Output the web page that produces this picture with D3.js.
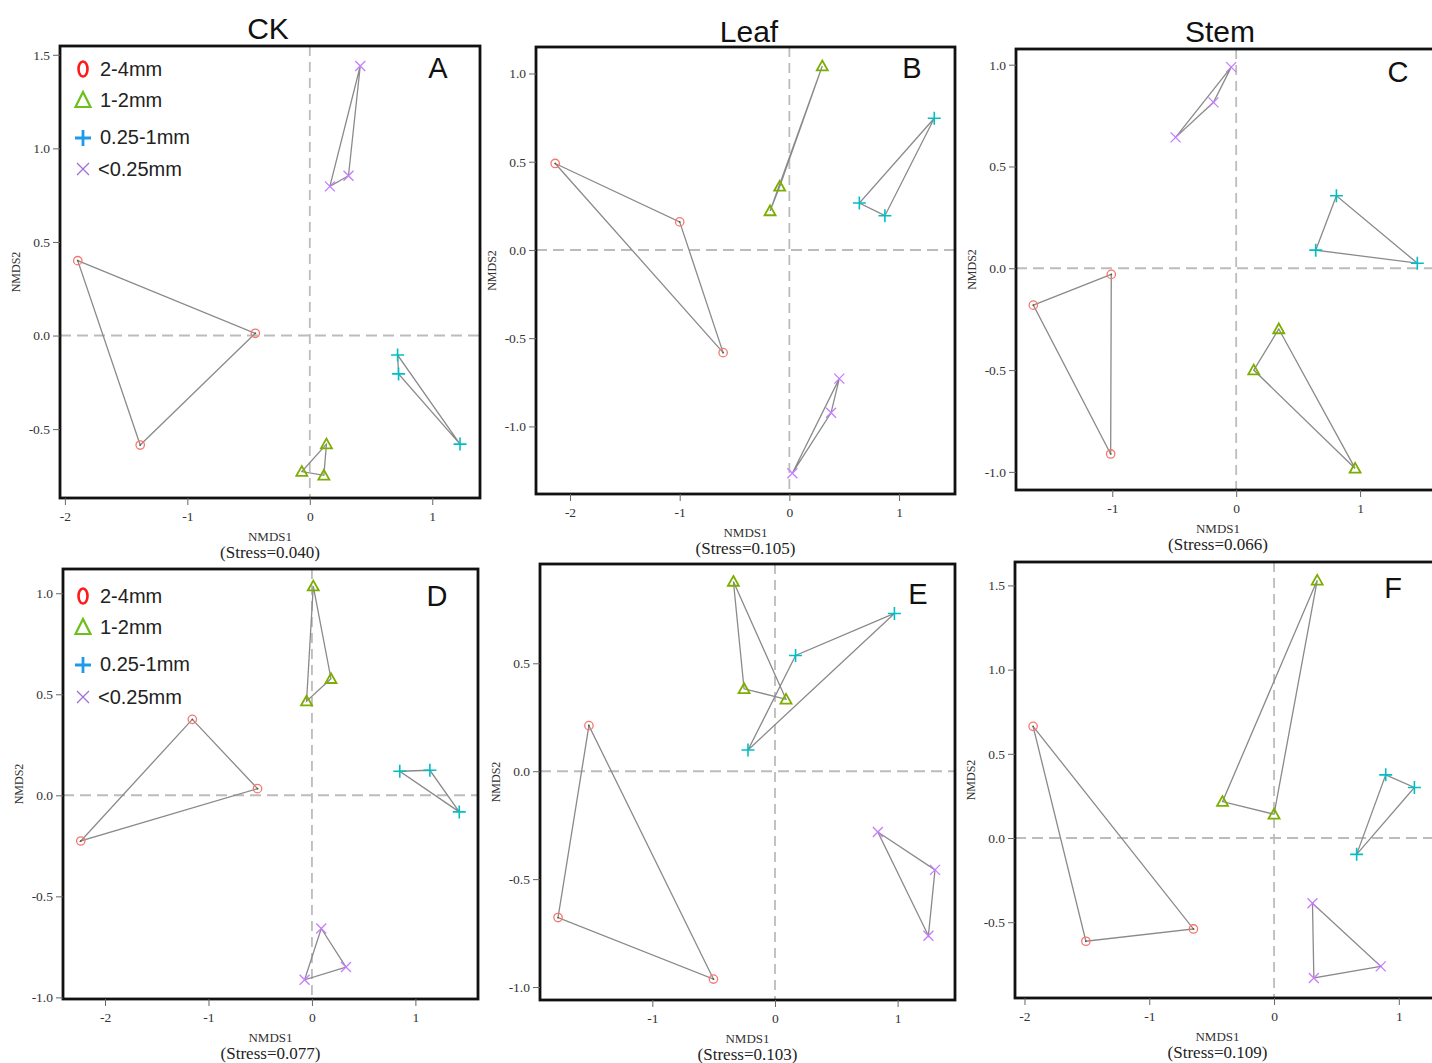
<!DOCTYPE html>
<html><head><meta charset="utf-8">
<script src="https://cdn.jsdelivr.net/npm/d3@7/dist/d3.min.js"></script>
<style>body{margin:0;background:#fff}svg{display:block}</style>
</head><body>
<svg id="c" width="1432" height="1063"></svg>
<script>
// ---------------- DATA ----------------
const groups = ["2-4mm", "1-2mm", "0.25-1mm", "<0.25mm"];
const panelLetters = ["A", "B", "C", "D", "E", "F"];
const columnTitles = ["CK", "Leaf", "Stem"];
const stressValues = ["0.040", "0.105", "0.066", "0.077", "0.103", "0.109"];

const xDomains = [[-2.04, 1.39], [-2.31, 1.51], [-1.777, 1.645], [-2.406, 1.605], [-1.916, 1.468], [-2.076, 1.33]];
const yDomains = [[-0.868, 1.547], [-1.383, 1.15], [-1.089, 1.077], [-1.008, 1.12], [-1.06, 0.96], [-0.95, 1.639]];
const xTickValues = [[-2, -1, 0, 1], [-2, -1, 0, 1], [-1, 0, 1], [-2, -1, 0, 1], [-1, 0, 1], [-2, -1, 0, 1]];
const yTickValues = [[-0.5, 0, 0.5, 1, 1.5], [-1, -0.5, 0, 0.5, 1], [-1, -0.5, 0, 0.5, 1], [-1, -0.5, 0, 0.5, 1], [-1, -0.5, 0, 0.5], [-0.5, 0, 0.5, 1, 1.5]];

// NMDS scores: per panel, per group (2-4, 1-2, 0.25-1, <0.25), three replicates [NMDS1, NMDS2]
const panelA = [
  [[-1.895, 0.40], [-0.445, 0.012], [-1.385, -0.585]],
  [[0.136, -0.58], [-0.065, -0.727], [0.115, -0.747]],
  [[0.717, -0.104], [0.725, -0.205], [1.227, -0.58]],
  [[0.412, 1.44], [0.164, 0.797], [0.316, 0.854]]
];
const panelB = [
  [[-2.135, 0.49], [-1.0, 0.159], [-0.604, -0.582]],
  [[0.30, 1.042], [-0.088, 0.36], [-0.176, 0.221]],
  [[1.321, 0.746], [0.638, 0.266], [0.871, 0.194]],
  [[0.455, -0.729], [0.38, -0.923], [0.027, -1.265]]
];
const panelC = [
  [[-1.008, -0.03], [-1.637, -0.181], [-1.013, -0.912]],
  [[0.344, -0.298], [0.142, -0.5], [0.96, -0.983]],
  [[0.809, 0.356], [0.642, 0.089], [1.462, 0.025]],
  [[-0.04, 0.988], [-0.183, 0.815], [-0.489, 0.643]]
];
const panelD = [
  [[-1.156, 0.376], [-0.526, 0.033], [-2.234, -0.226]],
  [[0.013, 1.035], [0.184, 0.577], [-0.052, 0.466]],
  [[0.849, 0.119], [1.14, 0.124], [1.424, -0.082]],
  [[0.09, -0.659], [0.329, -0.85], [-0.071, -0.913]]
];
const panelE = [
  [[-1.517, 0.211], [-1.769, -0.678], [-0.502, -0.963]],
  [[-0.339, 0.879], [-0.252, 0.382], [0.09, 0.333]],
  [[0.974, 0.731], [0.168, 0.536], [-0.22, 0.098]],
  [[0.839, -0.282], [1.305, -0.457], [1.251, -0.762]]
];
const panelF = [
  [[-1.931, 0.663], [-1.508, -0.613], [-0.646, -0.54]],
  [[0.346, 1.53], [-0.413, 0.216], [0.0, 0.141]],
  [[0.895, 0.375], [1.125, 0.30], [0.662, -0.097]],
  [[0.308, -0.387], [0.855, -0.762], [0.319, -0.831]]
];
const panelData = [panelA, panelB, panelC, panelD, panelE, panelF];

// ---------------- LAYOUT / STYLE ----------------
const frames = [ // [left, top, right, bottom] in px
  [60, 46, 480, 498], [536, 47, 955, 494], [1016, 49, 1440, 490],
  [63, 569, 478, 999], [540, 564, 955, 1000], [1015, 562, 1440, 998]
];
const letterPos = [[438, 68], [912, 68], [1398, 72], [437, 596], [918, 594], [1393, 588]];
const titlePos = [[268, 28], [749, 31], [1220, 31]];
const markColors = ["#F8766D", "#7CAE00", "#00BFC4", "#C77CFF"];
const legendColors = ["#ff1a1a", "#6cc01c", "#1e9be8", "#a070d8"];
const serif = "'Liberation Serif','DejaVu Serif',serif";
const sans = "'Liberation Sans',Arial,sans-serif";

const svg = d3.select("#c");

columnTitles.forEach((t, i) => {
  svg.append("text").attr("x", titlePos[i][0]).attr("y", titlePos[i][1])
    .attr("text-anchor", "middle").attr("dominant-baseline", "central")
    .style("font-family", sans).style("font-size", "30px").attr("fill", "#111").text(t);
});

function drawMarker(g, type, x, y, color) {
  if (type === 0) {
    g.append("circle").attr("cx", x).attr("cy", y).attr("r", 4.2)
      .attr("fill", "none").attr("stroke", color).attr("stroke-width", 1.3);
    g.append("circle").attr("cx", x).attr("cy", y).attr("r", 0.9).attr("fill", "#555");
  } else if (type === 1) {
    const s = 5.5;
    g.append("path").attr("d", `M${x},${y - s}L${x + s},${y + s * 0.78}L${x - s},${y + s * 0.78}Z`)
      .attr("fill", "none").attr("stroke", color).attr("stroke-width", 1.8);
  } else if (type === 2) {
    const s = 6.5;
    g.append("path").attr("d", `M${x - s},${y}H${x + s}M${x},${y - s}V${y + s}`)
      .attr("stroke", color).attr("stroke-width", 1.6);
  } else {
    const s = 5;
    g.append("path").attr("d", `M${x - s},${y - s}L${x + s},${y + s}M${x - s},${y + s}L${x + s},${y - s}`)
      .attr("stroke", color).attr("stroke-width", 1.3);
  }
}

panelData.forEach((pd, p) => {
  const [l, t, r, b] = frames[p];
  const x = d3.scaleLinear().domain(xDomains[p]).range([l, r]);
  const y = d3.scaleLinear().domain(yDomains[p]).range([b, t]);
  const g = svg.append("g");

  // zero reference lines
  g.append("line").attr("x1", l).attr("x2", Math.min(r, 1432)).attr("y1", y(0)).attr("y2", y(0))
    .attr("stroke", "#bcbcbc").attr("stroke-width", 2).attr("stroke-dasharray", "11,6");
  g.append("line").attr("x1", x(0)).attr("x2", x(0)).attr("y1", t).attr("y2", b)
    .attr("stroke", "#bcbcbc").attr("stroke-width", 1.8).attr("stroke-dasharray", "10,6");

  // hulls
  pd.forEach(grp => {
    g.append("path")
      .attr("d", d3.line().x(d => x(d[0])).y(d => y(d[1])).curve(d3.curveLinearClosed)(grp))
      .attr("fill", "none").attr("stroke", "#8a8a8a").attr("stroke-width", 1.3);
  });
  // markers
  pd.forEach((grp, gi) => {
    grp.forEach(d => drawMarker(g, gi, x(d[0]), y(d[1]), markColors[gi]));
  });

  // frame
  g.append("rect").attr("x", l).attr("y", t).attr("width", r - l).attr("height", b - t)
    .attr("fill", "none").attr("stroke", "#111").attr("stroke-width", 2.8);

  // axes
  const ax = g.append("g").attr("transform", `translate(0,${b})`)
    .call(d3.axisBottom(x).tickValues(xTickValues[p]).tickFormat(d => String(d)).tickSize(7).tickPadding(6));
  const ay = g.append("g").attr("transform", `translate(${l},0)`)
    .call(d3.axisLeft(y).tickValues(yTickValues[p]).tickFormat(d => d.toFixed(1)).tickSize(7).tickPadding(3));
  [ax, ay].forEach(a => {
    a.select(".domain").remove();
    a.selectAll("line").attr("stroke", "#666");
    a.selectAll("text").style("font-family", serif).style("font-size", "13.5px").attr("fill", "#333");
  });

  // axis titles
  g.append("text").attr("transform", `translate(${l - 44},${(t + b) / 2}) rotate(-90)`)
    .attr("text-anchor", "middle").attr("dominant-baseline", "central")
    .style("font-family", serif).style("font-size", "12px").attr("fill", "#333").text("NMDS2");
  const cx = (l + Math.min(r, 1440)) / 2 - (r > 1432 ? 10 : 0);
  g.append("text").attr("x", cx).attr("y", b + 38).attr("text-anchor", "middle").attr("dominant-baseline", "central")
    .style("font-family", serif).style("font-size", "13px").attr("fill", "#333").text("NMDS1");
  g.append("text").attr("x", cx).attr("y", b + 54).attr("text-anchor", "middle").attr("dominant-baseline", "central")
    .style("font-family", serif).style("font-size", "17px").attr("fill", "#222").text(`(Stress=${stressValues[p]})`);

  // panel letter
  svg.append("text").attr("x", letterPos[p][0]).attr("y", letterPos[p][1])
    .attr("text-anchor", "middle").attr("dominant-baseline", "central")
    .style("font-family", sans).style("font-size", "29px").attr("fill", "#111").text(panelLetters[p]);

  // legend (panels A and D)
  if (p === 0 || p === 3) {
    const rows = p === 0 ? [69, 100, 137, 169] : [596, 627, 664, 697];
    const lx = 83;
    groups.forEach((name, gi) => {
      const yy = rows[gi], c = legendColors[gi];
      if (gi === 0) {
        svg.append("ellipse").attr("cx", lx).attr("cy", yy).attr("rx", 4.5).attr("ry", 7.5)
          .attr("fill", "none").attr("stroke", c).attr("stroke-width", 2.6);
      } else if (gi === 1) {
        svg.append("path").attr("d", `M${lx},${yy - 8}L${lx + 7.5},${yy + 7}L${lx - 7.5},${yy + 7}Z`)
          .attr("fill", "none").attr("stroke", c).attr("stroke-width", 2.2);
      } else if (gi === 2) {
        svg.append("path").attr("d", `M${lx - 8},${yy + 1}H${lx + 8}M${lx},${yy - 7}V${yy + 9}`)
          .attr("stroke", c).attr("stroke-width", 2.8);
      } else {
        svg.append("path").attr("d", `M${lx - 6},${yy - 6}L${lx + 6},${yy + 6}M${lx - 6},${yy + 6}L${lx + 6},${yy - 6}`)
          .attr("stroke", c).attr("stroke-width", 1.3);
      }
      svg.append("text").attr("x", gi === 3 ? 98 : 100).attr("y", yy)
        .attr("dominant-baseline", "central")
        .style("font-family", sans).style("font-size", "20px").attr("fill", "#222").text(name);
    });
  }
});
</script>
</body></html>
